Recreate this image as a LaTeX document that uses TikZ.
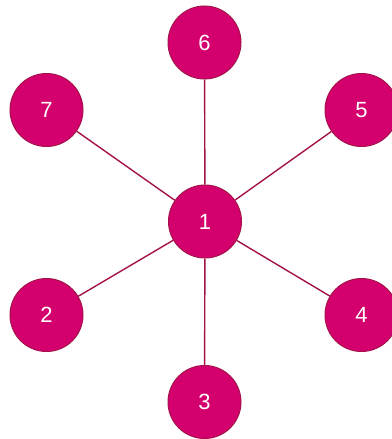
\documentclass[tikz,border=0pt]{standalone}
\usepackage{fontspec}
\setmainfont{Liberation Sans}
\usepackage{xcolor}
\definecolor{hubfill}{HTML}{D4006E}
\definecolor{hubline}{HTML}{A3124A}

\begin{document}
\begin{tikzpicture}[
    x=1pt, y=-1pt,
    font=\fontsize{22}{24}\selectfont,
    vtx/.style={circle, draw=hubline, fill=hubfill, line width=1pt,
      minimum size=73pt, inner sep=0pt, text=white},
    edge/.style={draw=hubline, line width=1.4pt},
  ]
    \useasboundingbox (0,0) rectangle (391,439);
    % Centre and outer ring
    \node[vtx] (n1) at (205,221.5) {1};
    \node[vtx] (n6) at (204.5,42.5) {6};
    \node[vtx] (n5) at (361.5,110) {5};
    \node[vtx] (n4) at (361.5,315) {4};
    \node[vtx] (n3) at (204.5,402) {3};
    \node[vtx] (n2) at (46.5,315) {2};
    \node[vtx] (n7) at (46.5,110) {7};
    % Spokes
    \foreach \o in {n2,n3,n4,n5,n6,n7}
      \path[edge] (n1) -- (\o);
  \end{tikzpicture}
\end{document}
